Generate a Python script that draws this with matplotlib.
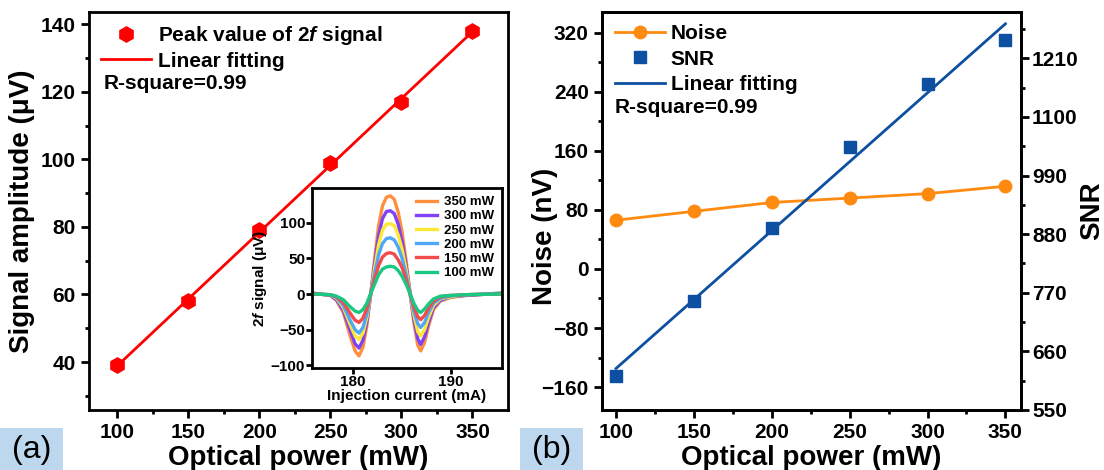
import numpy as np
import matplotlib
matplotlib.use('Agg')
import matplotlib.pyplot as plt
from matplotlib.patches import Rectangle

plt.rcParams['font.family'] = ['Liberation Sans', 'DejaVu Sans']
plt.rcParams['font.weight'] = 'bold'
plt.rcParams['axes.labelweight'] = 'bold'
plt.rcParams['mathtext.fontset'] = 'custom'
plt.rcParams['mathtext.rm'] = 'Liberation Sans:bold'
plt.rcParams['mathtext.it'] = 'Liberation Sans:italic:bold'
plt.rcParams['mathtext.bf'] = 'Liberation Sans:bold'

# data
power = [100, 150, 200, 250, 300, 350]
peak = [39, 58, 79, 99, 117, 138]          # uV
noise = [66, 78, 90, 96, 102, 112]         # nV
snr = [614, 754, 891, 1043, 1161, 1245]

# inset: 2f signal vs injection current
current = [176, 177.7, 178.3, 179.0, 179.7, 180.2, 180.6, 181.0, 181.4, 181.8,
           182.2, 182.6, 183.0, 183.4, 183.8, 184.2, 184.6, 185.0, 185.4, 185.8,
           186.2, 186.6, 186.9, 187.3, 187.7, 188.2, 188.9, 189.9, 191.5, 195]
sig_350 = [1, -2, -9, -26, -59, -80, -87, -75, -45, 0, 50, 96, 124, 136, 138, 133, 115, 87, 48, 2,
           -40, -72, -80, -68, -45, -22, -10, -5, -2, 1]
sig_300 = [1, -2, -8, -23, -51, -70, -76, -65, -39, 0, 43, 82, 106, 116, 117, 113, 98, 74, 41, 2,
           -35, -63, -71, -60, -40, -19, -9, -4, -2, 1]
sig_250 = [0, -1, -6, -19, -43, -59, -64, -55, -33, 0, 36, 69, 90, 98, 99, 96, 83, 63, 35, 1,
           -29, -53, -59, -50, -33, -16, -7, -4, -1, 1]
sig_200 = [0, -1, -5, -16, -37, -50, -55, -47, -28, 0, 29, 55, 71, 78, 79, 76, 66, 50, 28, 1,
           -24, -42, -47, -40, -26, -13, -6, -3, -1, 1]
sig_150 = [0, -1, -4, -12, -27, -37, -40, -34, -20, 1, 21, 40, 52, 57, 58, 56, 48, 37, 21, 1,
           -18, -32, -36, -30, -20, -10, -4, -2, -1, 0]
sig_100 = [0, -1, -3, -8, -18, -24, -26, -22, -13, 1, 14, 27, 35, 38, 39, 38, 33, 25, 14, 1,
           -13, -23, -26, -21, -14, -7, -3, -2, -1, 0]
inset_labels = ['350 mW', '300 mW', '250 mW', '200 mW', '150 mW', '100 mW']
inset_colors = ['#FF8F3F', '#7F43F5', '#FFE833', '#4EA8F5', '#F24B4B', '#19C882']

fig = plt.figure(figsize=(11.04, 4.70), dpi=100)

def style(ax, lw=2.0):
    for s in ax.spines.values():
        s.set_linewidth(lw)
    ax.tick_params(which='major', direction='out', length=6, width=2, labelsize=15)
    ax.tick_params(which='minor', direction='out', length=3, width=2)

# ---------- (a) ----------
ax1 = fig.add_axes([0.0806, 0.1277, 0.3795, 0.8468])
style(ax1)
fit1 = np.polyfit(power, peak, 1)
ax1.plot(power, peak, 'h', color='red', markersize=11, label='Peak value of 2$\\mathit{f}$ signal')
ax1.plot(power, np.polyval(fit1, power), '-', color='red', lw=2, label='Linear fitting')
ax1.set_xlim(80, 375)
ax1.set_ylim(25.8, 143.6)
ax1.set_xticks(power)
ax1.set_xticks([125, 175, 225, 275, 325], minor=True)
ax1.set_yticks([40, 60, 80, 100, 120, 140])
ax1.set_yticks([30, 50, 70, 90, 110, 130], minor=True)
ax1.set_xlabel('Optical power (mW)', fontsize=20, labelpad=2)
ax1.set_ylabel('Signal amplitude (μV)', fontsize=20, labelpad=4)
ax1.legend(loc='upper left', frameon=False, fontsize=15, handlelength=2.4,
           handletextpad=0.3, labelspacing=0.2, borderaxespad=0.2,
           bbox_to_anchor=(0.0, 1.0))
ax1.text(0.035, 0.82, 'R-square=0.99', transform=ax1.transAxes, fontsize=15,
         va='center', ha='left')

# inset
axi = fig.add_axes([0.2826, 0.217, 0.1721, 0.383])
style(axi, lw=2.0)
axi.tick_params(which='major', length=4, labelsize=11, pad=1)
axi.tick_params(which='minor', length=2)
sigs = [sig_350, sig_300, sig_250, sig_200, sig_150, sig_100]
for s, c, l in zip(sigs, inset_colors, inset_labels):
    axi.plot(current, s, color=c, lw=2.4, label=l, solid_joinstyle='round')
axi.set_xlim(175.8, 195.2)
axi.set_ylim(-104, 149)
axi.set_xticks([180, 190])
axi.set_yticks([-100, -50, 0, 50, 100])
axi.set_xlabel('Injection current (mA)', fontsize=11, labelpad=0)
axi.set_ylabel('2$\\mathit{f}$ signal (μV)', fontsize=11, labelpad=1)
axi.legend(loc='upper right', frameon=False, fontsize=9.5, handlelength=1.6,
           handletextpad=0.5, labelspacing=0.15, borderaxespad=0.2)

# ---------- (b) ----------
ax2 = fig.add_axes([0.5453, 0.1277, 0.3795, 0.8468])
style(ax2)
ax3 = ax2.twinx()
style(ax3)
ax3.tick_params(which='major', pad=2)
ln1, = ax2.plot(power, noise, '-o', color='#FF8A10', lw=2, markersize=9, label='Noise')
fit2 = np.polyfit(power, snr, 1)
ln2, = ax3.plot(power, snr, 's', color='#0D4FA0', markersize=8, label='SNR')
ln3, = ax3.plot(power, np.polyval(fit2, power), '-', color='#0D4FA0', lw=2, label='Linear fitting')
ax2.set_xlim(91, 360)
ax2.set_ylim(-191, 348)
ax3.set_ylim(550, 1297)
ax2.set_xticks(power)
ax2.set_xticks([125, 175, 225, 275, 325], minor=True)
ax2.set_yticks([-160, -80, 0, 80, 160, 240, 320])
ax2.set_yticks([-120, -40, 40, 120, 200, 280], minor=True)
ax3.set_yticks([550, 660, 770, 880, 990, 1100, 1210])
ax3.set_yticks([605, 715, 825, 935, 1045, 1155, 1265], minor=True)
ax2.set_xlabel('Optical power (mW)', fontsize=20, labelpad=2)
ax2.set_ylabel('Noise (nV)', fontsize=20)
ax2.yaxis.set_label_coords(-0.105, 0.436)
ax3.set_ylabel('SNR', fontsize=20, labelpad=0)
ax2.legend(handles=[ln1, ln2, ln3], loc='upper left', frameon=False, fontsize=15,
           handlelength=2.4, handletextpad=0.3, labelspacing=0.3, borderaxespad=0.2)
ax2.text(0.03, 0.76, 'R-square=0.99', transform=ax2.transAxes, fontsize=15,
         va='center', ha='left')

# panel labels
for x0, lab in [(0.0, '(a)'), (0.471, '(b)')]:
    fig.patches.append(Rectangle((x0, 0.0), 0.057, 0.09, transform=fig.transFigure,
                                 facecolor='#BDD7EE', edgecolor='none', zorder=0))
    fig.text(x0 + 0.0285, 0.043, lab, fontsize=23, fontweight='normal',
             ha='center', va='center')

fig.savefig('out.png', dpi=100)
